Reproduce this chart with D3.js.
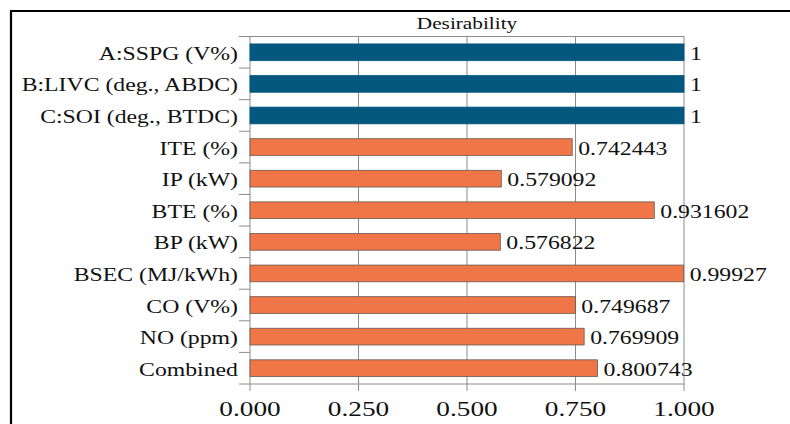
<!DOCTYPE html>
<html>
<head>
<meta charset="utf-8">
<script src="https://cdn.jsdelivr.net/npm/d3@7"></script>
<style>
  html, body { margin: 0; padding: 0; background: #fff; }
  svg { display: block; }
  text { font-family: "Liberation Serif", "Times New Roman", serif; fill: #111; }
</style>
</head>
<body>
<svg id="chart" width="790" height="424"></svg>
<script>
// ---- data ----
const categories = ["A:SSPG (V%)", "B:LIVC (deg., ABDC)", "C:SOI (deg., BTDC)", "ITE (%)", "IP (kW)", "BTE (%)", "BP (kW)", "BSEC (MJ/kWh)", "CO (V%)", "NO (ppm)", "Combined"];
const values = [1, 1, 1, 0.742443, 0.579092, 0.931602, 0.576822, 0.99927, 0.749687, 0.769909, 0.800743];
const valueLabels = ["1", "1", "1", "0.742443", "0.579092", "0.931602", "0.576822", "0.99927", "0.749687", "0.769909", "0.800743"];
const groups = ["factor", "factor", "factor", "resp", "resp", "resp", "resp", "resp", "resp", "resp", "resp"];
const xTicks = [0, 0.25, 0.5, 0.75, 1.0];
const title = "Desirability";

// ---- layout ----
const svg = d3.select("#chart");
const pL = 250, pR = 684, pT = 36.5, pB = 384;
const x = d3.scaleLinear().domain([0, 1]).range([pL, pR]);
const y = d3.scaleBand().domain(categories).range([pT, pB]).paddingInner(0.47).paddingOuter(0.235);
const yRow = d3.scaleBand().domain(categories).range([pT, pB]);
const color = d3.scaleOrdinal().domain(["factor", "resp"]).range(["#04587f", "#f07547"]);
const stroke = d3.scaleOrdinal().domain(["factor", "resp"]).range(["#04587f", "#6a5a52"]);

// outer frame (left + top)
svg.append("path")
  .attr("d", `M11,424 V11 H790`)
  .attr("fill", "none").attr("stroke", "#000").attr("stroke-width", 2.2);

// gridlines
svg.append("g").selectAll("line").data(xTicks.slice(1, -1)).join("line")
  .attr("x1", d => x(d)).attr("x2", d => x(d))
  .attr("y1", pT).attr("y2", pB)
  .attr("stroke", "#8c8c8c").attr("stroke-width", 1);

// plot border
svg.append("rect")
  .attr("x", pL).attr("y", pT).attr("width", pR - pL).attr("height", pB - pT)
  .attr("fill", "none").attr("stroke", "#8c8c8c").attr("stroke-width", 1);

// left ticks at row boundaries
const boundaries = categories.map(c => yRow(c)).concat([pB]);
svg.append("g").selectAll("line").data(boundaries).join("line")
  .attr("x1", pL - 11).attr("x2", pL)
  .attr("y1", d => d).attr("y2", d => d)
  .attr("stroke", "#8c8c8c").attr("stroke-width", 1);

// bottom ticks
svg.append("g").selectAll("line").data(xTicks).join("line")
  .attr("x1", d => x(d)).attr("x2", d => x(d))
  .attr("y1", pB).attr("y2", pB + 7)
  .attr("stroke", "#8c8c8c").attr("stroke-width", 1);

// bars
svg.append("g").selectAll("rect").data(categories).join("rect")
  .attr("x", x(0))
  .attr("y", c => y(c))
  .attr("width", (c, i) => x(values[i]) - x(0))
  .attr("height", y.bandwidth())
  .attr("fill", (c, i) => color(groups[i]))
  .attr("stroke", (c, i) => stroke(groups[i]))
  .attr("stroke-width", 0.8);

// category labels
svg.append("g").selectAll("text").data(categories).join("text")
  .attr("transform", c => `translate(238,${yRow(c) + yRow.bandwidth() / 2 + 7.5}) scale(1.25,1)`)
  .attr("text-anchor", "end")
  .attr("font-size", 19)
  .text(c => c);

// value labels
svg.append("g").selectAll("text").data(categories).join("text")
  .attr("transform", (c, i) => `translate(${x(values[i]) + 6},${yRow(c) + yRow.bandwidth() / 2 + 7.5}) scale(1.25,1)`)
  .attr("font-size", 19)
  .text((c, i) => valueLabels[i]);

// x tick labels
svg.append("g").selectAll("text").data(xTicks).join("text")
  .attr("transform", d => `translate(${x(d)},416) scale(1.3,1)`)
  .attr("text-anchor", "middle")
  .attr("font-size", 21)
  .text(d => d3.format(".3f")(d));

// title
svg.append("text")
  .attr("transform", `translate(${(pL + pR) / 2},29) scale(1.33,1)`)
  .attr("text-anchor", "middle")
  .attr("font-size", 16)
  .text(title);
</script>
</body>
</html>
